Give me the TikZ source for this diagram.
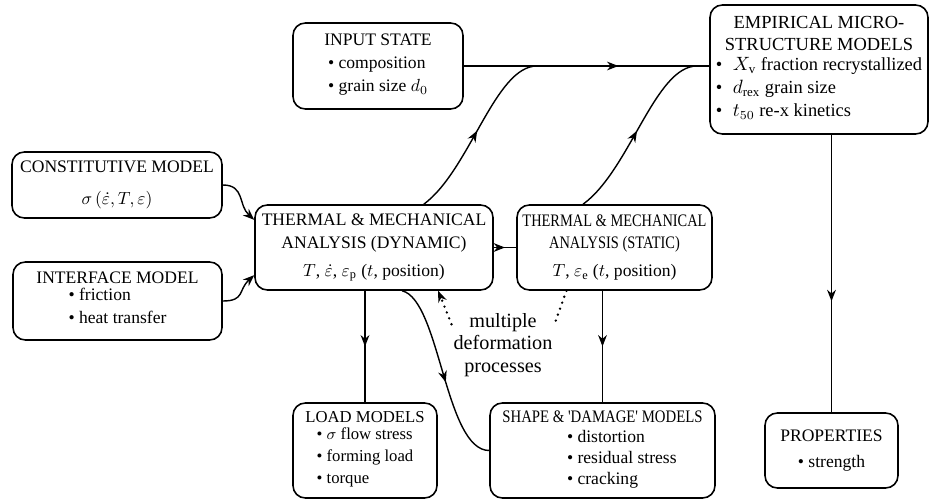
\documentclass[tikz,border=0pt]{standalone}
\usepackage{amsmath}
\usepackage{graphicx}
\usepackage{fontspec}
\setmainfont{Liberation Serif}
\usepackage{tikz}
\usetikzlibrary{arrows.meta, decorations.markings}

\begin{document}
\begin{tikzpicture}[x=0.02cm, y=-0.02cm, >={Stealth[length=6.5pt,width=5pt]},
    font=\fontsize{10}{13}\selectfont,
    box/.style={draw, rounded corners=7pt, line width=0.9pt, align=center, inner sep=2pt},
    link/.style={line width=0.8pt},
    midarrow/.style={postaction={decorate},
      decoration={markings, mark=at position #1 with {\arrow{>}}}},
    midarrow/.default=0.5,
    dotline/.style={line width=1.5pt, line cap=round, dash pattern=on 0pt off 3.6pt}]
  \useasboundingbox (0,0) rectangle (930,501);
  % Top row: input state and microstructure models
  \node[box, minimum width=3.4cm, minimum height=1.72cm] (inp) at (378,66)
    {INPUT STATE\\[3pt]\begin{tabular}{@{}l@{}}\textbullet\ composition\\
     \textbullet\ grain size $d_0$\end{tabular}};
  \node[box, minimum width=4.36cm, minimum height=2.58cm,
        font=\fontsize{10.5}{13}\selectfont] (emp) at (819,69.5)
    {EMPIRICAL MICRO-\\STRUCTURE MODELS\\[1pt]\begin{tabular}{@{}l@{}}
     \textbullet\hspace{6pt}$X_{\mathrm{v}}$ fraction recrystallized\\
     \textbullet\hspace{6pt}$d_{\mathrm{rex}}$ grain size\\
     \textbullet\hspace{6pt}$t_{50}$ re-x kinetics\end{tabular}};
  % Left column: constitutive and interface models
  \node[box, minimum width=4.2cm, minimum height=1.32cm] (con) at (117,185)
    {CONSTITUTIVE MODEL\\[5pt]$\sigma\,(\dot{\varepsilon},T,\varepsilon)$};
  \node[box, minimum width=4.18cm, minimum height=1.56cm] (int) at (117.5,301)
    {INTERFACE MODEL\\\begin{tabular}{@{}l@{}}\textbullet\ friction\\
     \textbullet\ heat transfer\end{tabular}};
  % Middle row: the two analysis boxes
  \node[box, minimum width=4.76cm, minimum height=1.7cm] (dyn) at (374,247.5)
    {THERMAL \& MECHANICAL\\ANALYSIS (DYNAMIC)\\[3pt]$T$, $\dot{\varepsilon}$,
     $\varepsilon_{\mathrm{p}}$ ($t$, position)};
  \node[box, minimum width=3.9cm, minimum height=1.7cm] (stat) at (614.5,247.5)
    {\scalebox{0.82}[1]{THERMAL \& MECHANICAL}\\\scalebox{0.82}[1]{ANALYSIS (STATIC)}\\[3pt]
     $T$, $\varepsilon_{\mathrm{e}}$ ($t$, position)};
  % Bottom row: load, shape and property models
  \node[box, minimum width=2.88cm, minimum height=1.9cm,
        font=\fontsize{9.5}{12.5}\selectfont] (load) at (365,450.5)
    {LOAD MODELS\\\begin{tabular}{@{}l@{}}\textbullet\ $\sigma$ flow stress\\
     \textbullet\ forming load\\ \textbullet\ torque\end{tabular}};
  \node[box, minimum width=4.5cm, minimum height=1.9cm,
        font=\fontsize{10}{12}\selectfont] (shape) at (602.5,450.5)
    {\scalebox{0.84}[1]{SHAPE \& \textquotesingle DAMAGE\textquotesingle\ MODELS}\\[2pt]
     \hspace*{22pt}\begin{tabular}{@{}l@{}}\textbullet\ distortion\\
     \textbullet\ residual stress\\ \textbullet\ cracking\end{tabular}};
  \node[box, minimum width=2.66cm, minimum height=1.5cm] (prop) at (831.5,450.5)
    {PROPERTIES\\[2pt]\textbullet\ strength};
  % Label between the analysis boxes
  \node[font=\fontsize{11.5}{13}\selectfont, align=center, inner sep=1pt] (mult)
    at (503,345) {multiple\\deformation\\processes};
  % Junctions on the line into the microstructure box
  \coordinate (j1) at (537,66);
  \coordinate (j2) at (697,66);
  % Connectors
  \draw[link, midarrow=0.63] (inp.east) -- (inp.east -| emp.west);
  \draw[link, midarrow] (dyn.41) .. controls (470,170) and (495,66) .. (j1);
  \draw[link, midarrow] (stat.126) .. controls (630,170) and (655,66) .. (j2);
  \draw[link, ->] (con.east) .. controls (245,185) and (238,205) .. (dyn.167);
  \draw[link, ->] (int.east) .. controls (245,301) and (238,290) .. (dyn.193);
  \draw[link, midarrow] (dyn.east) -- (stat.west);
  \draw[link, midarrow] (load.north |- dyn.south) -- (load.north);
  \draw[link, midarrow=0.55] (dyn.-57) .. controls (440,300) and (445,450.5) .. (shape.west);
  \draw[link, midarrow] (shape.north |- stat.south) -- (shape.north);
  \draw[link, midarrow=0.6] (prop.north |- emp.south) -- (prop.north);
  \draw[dotline, ->] (mult.158) -- (dyn.-34);
  \draw[dotline] (stat.-138) -- (mult.22);
\end{tikzpicture}
\end{document}
